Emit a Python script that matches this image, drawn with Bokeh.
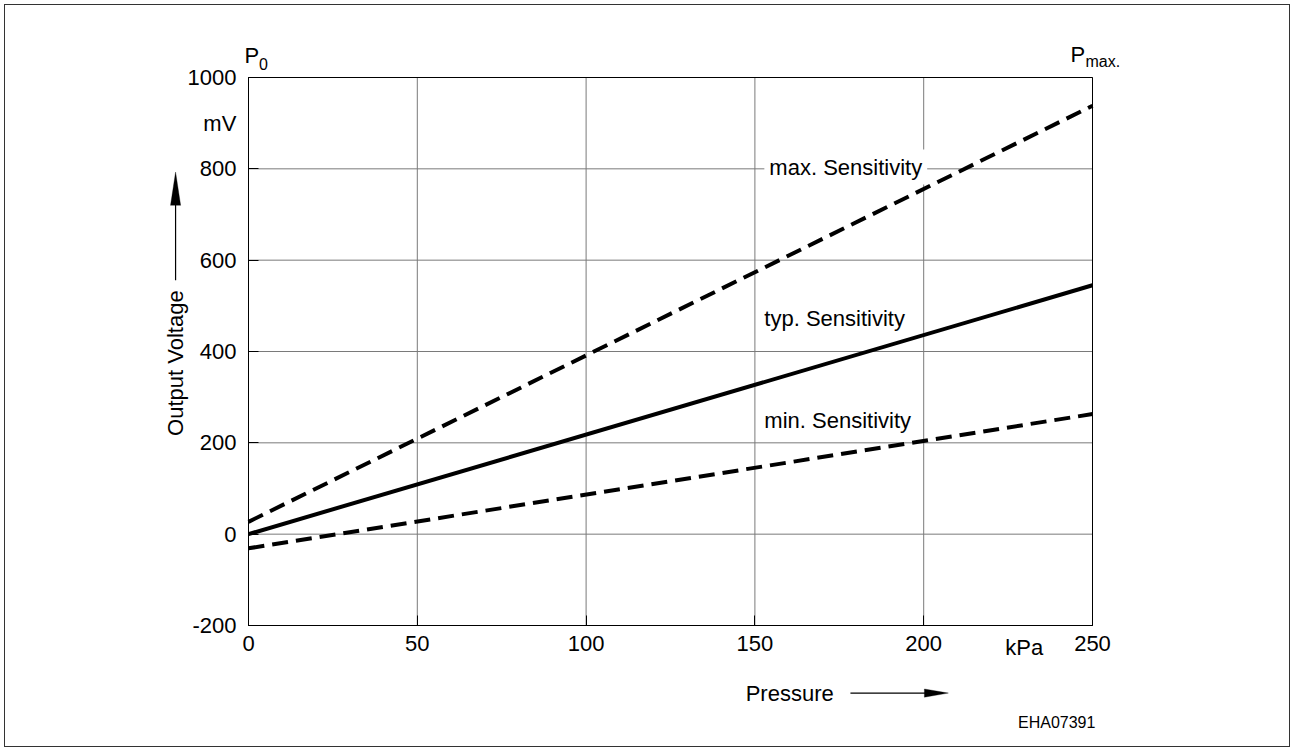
from bokeh.plotting import figure
from bokeh.models import Range1d, Label, Arrow, PolyAnnotation, FixedTicker
from bokeh.embed import file_html
from bokeh.resources import INLINE

# data
pressure = [0, 250]
max_sens = [27, 938]
typ_sens = [0, 545]
min_sens = [-31, 263]
x_ticks = [0, 50, 100, 150, 200, 250]
y_ticks = [-200, 0, 200, 400, 600, 800, 1000]

FONT = "Liberation Sans"
FS = "22px"

# pixel geometry of the plot box inside the canvas (canvas starts at page 5,5)
W, H = 1286, 743
OX, OY = 5, 5
PX_L, PX_R, PY_T, PY_B = 248, 1092, 77, 625
XMIN, XMAX, YMIN, YMAX = 0, 250, -200, 1000
sx = (PX_R - PX_L) / (XMAX - XMIN)
sy = (PY_B - PY_T) / (YMAX - YMIN)
x_lo = XMIN - (PX_L - OX) / sx
x_hi = XMIN + (OX + W - PX_L) / sx
y_hi = YMAX + (PY_T - OY) / sy
y_lo = YMIN - (OY + H - PY_B) / sy

p = figure(width=W, height=H, output_backend="svg", toolbar_location=None,
           x_range=Range1d(x_lo, x_hi), y_range=Range1d(y_lo, y_hi),
           min_border=0)
p.title.visible = False
p.margin = (4, 0, 0, 4)
p.styles = {"border": "1px solid #333333"}
p.outline_line_color = None
p.background_fill_color = "white"
p.border_fill_color = "white"
p.grid.visible = False

# grid lines of the plot box
p.segment(x0=x_ticks, y0=[YMIN] * len(x_ticks), x1=x_ticks, y1=[YMAX] * len(x_ticks),
          line_color="#7a7a7a", line_width=1)
p.segment(x0=[XMIN] * len(y_ticks), y0=y_ticks, x1=[XMAX] * len(y_ticks), y1=y_ticks,
          line_color="#7a7a7a", line_width=1)
p.quad(left=[XMIN], right=[XMAX], bottom=[YMIN], top=[YMAX],
       fill_color=None, line_color="black", line_width=1)

# axes fixed at the plot box edges
p.xaxis.fixed_location = YMIN
p.yaxis.fixed_location = XMIN
p.xaxis.ticker = FixedTicker(ticks=x_ticks)
p.yaxis.ticker = FixedTicker(ticks=y_ticks)
p.xaxis.bounds = (XMIN, XMAX)
p.yaxis.bounds = (YMIN, YMAX)
p.yaxis.major_label_overrides = {t: str(t) for t in y_ticks}
for ax in (p.xaxis[0], p.yaxis[0]):
    ax.axis_line_color = "black"
    ax.major_tick_in = 10
    ax.major_tick_out = 0
    ax.major_tick_line_color = "black"
    ax.minor_tick_line_color = None
    ax.major_label_text_font = FONT
    ax.major_label_text_font_size = FS
    ax.major_label_text_color = "black"
p.xaxis.major_label_standoff = 10
p.yaxis.major_label_standoff = 12

# sensitivity lines
p.line(pressure, max_sens, line_color="black", line_width=4, line_dash="16 8")
p.line(pressure, typ_sens, line_color="black", line_width=4)
p.line(pressure, min_sens, line_color="black", line_width=4, line_dash="16 8")

def lab(x, y, text, size=FS, align="left", baseline="middle", angle=0, **kw):
    p.add_layout(Label(x=x, y=y, text=text, text_font=FONT, text_font_size=size,
                       text_align=align, text_baseline=baseline, angle=angle,
                       text_color="black", **kw))

lab(152.8, 804, "max. Sensitivity", background_fill_color="white", padding=5)
lab(152.8, 473, "typ. Sensitivity")
lab(152.8, 250, "min. Sensitivity")

lab(-3.6, 899, "mV", align="right")
lab(229.8, -249, "kPa", align="center")
lab(-1.2, 1048, "P", size="22px")
lab(3.1, 1029, "0", size="16px")
lab(243.5, 1051, "P", size="22px")
lab(247.9, 1034, "max.", size="16px")
lab(239.4, -412, "EHA07391", size="16px", align="center")

# axis titles with arrows
lab(-21.6, 374.6, "Output Voltage", align="center", angle=1.5707963)
p.add_layout(Arrow(x_start=-21.6, y_start=556, x_end=-21.6, y_end=722, end=None,
                   line_color="black", line_width=1.2))
p.add_layout(PolyAnnotation(xs=[-23.1, -20.1, -21.6], ys=[720, 720, 793],
                            fill_color="black", fill_alpha=1, line_color="black"))

lab(160.3, -348, "Pressure", align="center")
p.add_layout(Arrow(x_start=178.3, y_start=-348, x_end=201, y_end=-348, end=None,
                   line_color="black", line_width=1.2))
p.add_layout(PolyAnnotation(xs=[200.2, 200.2, 207.3], ys=[-339, -357, -348],
                            fill_color="black", fill_alpha=1, line_color="black"))

open("out.html", "w").write(file_html(p, INLINE))
